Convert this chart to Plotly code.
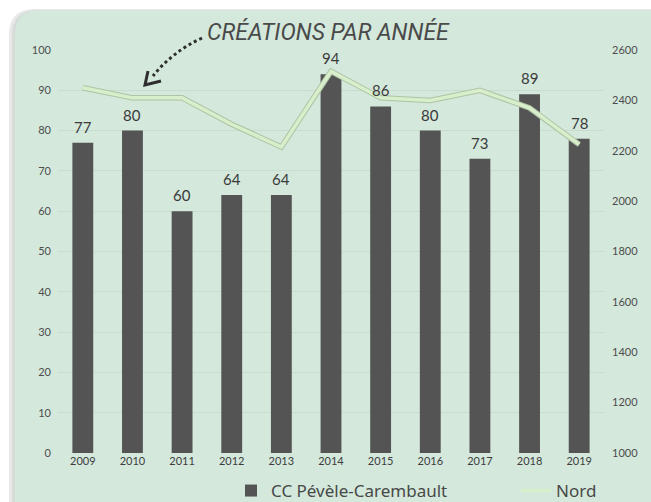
import plotly.graph_objects as go

years = ["2009", "2010", "2011", "2012", "2013", "2014", "2015", "2016", "2017", "2018", "2019"]
cc_pevele = [77, 80, 60, 64, 64, 94, 86, 80, 73, 89, 78]
nord = [2450, 2410, 2410, 2305, 2215, 2515, 2410, 2400, 2440, 2370, 2225]

W, H = 651, 502
L, R, T, B = 58, 47, 50, 49
PW, PH = W - L - R, H - T - B


def px(x):
    return (x - L) / PW


def py(y):
    return (H - B - y) / PH


def card_path(x0, y0, r, dx=0, dy=0):
    x0 += dx
    y0 += dy
    return (f"M {px(x0)},{py(y0 + r)} Q {px(x0)},{py(y0)} {px(x0 + r)},{py(y0)} "
            f"L {px(W + 20)},{py(y0)} L {px(W + 20)},{py(H + 20)} L {px(x0)},{py(H + 20)} Z")


fig = go.Figure()

fig.add_trace(go.Bar(
    x=years, y=cc_pevele, name="CC Pévèle-Carembault", legend="legend",
    marker=dict(color="#545454", line=dict(width=0)),
))

# darker edge under the light line
fig.add_trace(go.Scatter(
    x=years, y=nord, yaxis="y2", mode="lines", showlegend=False, hoverinfo="skip",
    line=dict(color="#adc4a5", width=5.5),
))
fig.add_trace(go.Scatter(
    x=years, y=nord, yaxis="y2", mode="lines", name="Nord", legend="legend2",
    line=dict(color="#d9eecb", width=3.5),
))

shapes = [
    # card shadow + card
    dict(type="path", xref="paper", yref="paper", layer="below",
         path=card_path(15, 10, 26, dx=-6, dy=-1), fillcolor="#dedede", line=dict(width=0), opacity=0.7),
    dict(type="path", xref="paper", yref="paper", layer="below",
         path=card_path(15, 10, 26, dx=-3, dy=0), fillcolor="#cfd8d2", line=dict(width=0), opacity=0.7),
    dict(type="path", xref="paper", yref="paper", layer="below",
         path=card_path(15, 10, 26), fillcolor="#d4e8dc", line=dict(width=0)),
    # dashed arrow from title
    dict(type="path", xref="paper", yref="paper",
         path=f"M {px(202)},{py(38)} Q {px(172)},{py(52)} {px(153)},{py(76)}",
         line=dict(color="#2f2f2f", width=3, dash="dot")),
    dict(type="path", xref="paper", yref="paper",
         path=f"M {px(148)},{py(71)} L {px(145)},{py(85)} L {px(161)},{py(81)}",
         line=dict(color="#2f2f2f", width=3)),
]

annotations = [dict(
    text="<i>CRÉATIONS PAR ANNÉE</i>", xref="paper", yref="paper",
    x=px(328), y=py(32), xanchor="center", yanchor="middle", showarrow=False,
    font=dict(family="Liberation Sans Narrow, Roboto", size=23, color="#4a4a4a"),
)]
# value labels above bars (x given as category index)
for i, v in enumerate(cc_pevele):
    annotations.append(dict(
        x=i, y=v, xref="x", yref="y", text=str(v), showarrow=False,
        yanchor="middle", yshift=16,
        font=dict(family="Lato", size=15, color="#3a3a3a"),
    ))

legend_font = dict(family="Noto Sans", size=17, color="#484848")

fig.update_layout(
    width=W, height=H,
    margin=dict(l=L, r=R, t=T, b=B, autoexpand=False),
    paper_bgcolor="white",
    plot_bgcolor="rgba(0,0,0,0)",
    bargap=0.58,
    shapes=shapes,
    annotations=annotations,
    showlegend=True,
    legend=dict(
        orientation="h", xref="container", yref="container",
        x=231 / W, y=1 - 491 / H, xanchor="left", yanchor="middle",
        font=legend_font, bgcolor="rgba(0,0,0,0)",
    ),
    legend2=dict(
        orientation="h", xref="container", yref="container",
        x=516 / W, y=1 - 491 / H, xanchor="left", yanchor="middle",
        font=legend_font, bgcolor="rgba(0,0,0,0)",
    ),
    xaxis=dict(
        type="category", range=[-0.5, len(years) - 0.5],
        showgrid=False, zeroline=False, showline=False, ticks="",
        tickfont=dict(family="Lato", size=11, color="#3d3d3d"),
    ),
    yaxis=dict(
        range=[0, 100], dtick=10, showgrid=True, gridcolor="#c8ddd0", gridwidth=1,
        zeroline=False, showline=False, ticks="", ticklabelstandoff=6,
        tickfont=dict(family="Lato", size=11, color="#4d4d4d"),
    ),
    yaxis2=dict(
        range=[1000, 2600], dtick=200, overlaying="y", side="right", showgrid=False,
        zeroline=False, showline=False, ticks="", ticklabelstandoff=7,
        tickfont=dict(family="Lato", size=11, color="#4d4d4d"),
    ),
)

fig.write_html(
    "out.html",
    config={"displayModeBar": False},
    post_script="document.documentElement.style.overflow='hidden';"
                "document.body.style.overflow='hidden';document.body.style.margin='0';",
)
